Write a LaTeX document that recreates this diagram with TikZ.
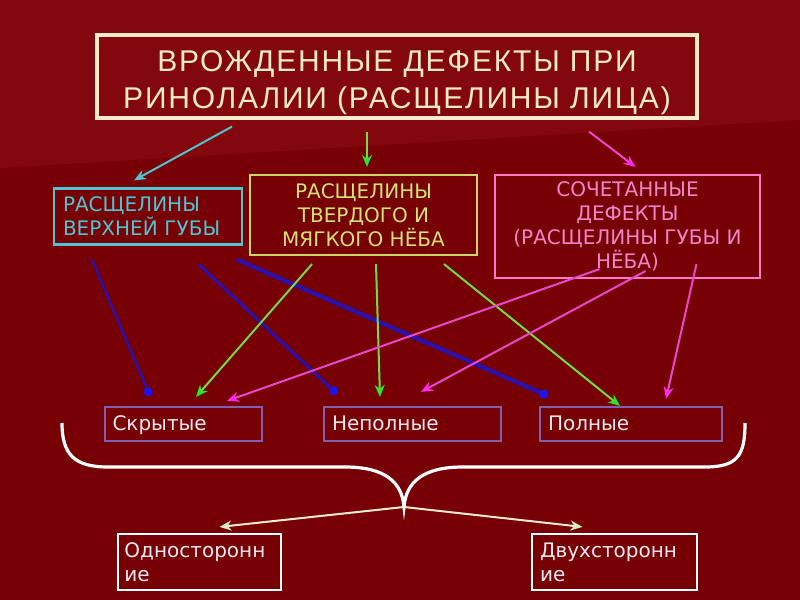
\documentclass[tikz,border=0pt]{standalone}
\usepackage{fontspec}
\setmainfont{DejaVu Sans}
\newfontfamily\ttlfont[LetterSpace=6.0]{Liberation Sans}
\usetikzlibrary{arrows.meta}

\definecolor{bgdark}{RGB}{118,0,4}
\definecolor{bglight}{RGB}{130,8,13}
\definecolor{cream}{RGB}{253,234,200}
\definecolor{lipc}{RGB}{80,196,208}
\definecolor{palc}{RGB}{204,214,100}
\definecolor{paltxt}{RGB}{214,226,112}
\definecolor{combc}{RGB}{250,122,200}
\definecolor{combtxt}{RGB}{240,132,200}
\definecolor{kindc}{RGB}{130,96,176}
\definecolor{kindtxt}{RGB}{246,232,240}
\definecolor{bluel}{RGB}{44,16,168}
\definecolor{bluedot}{RGB}{30,20,230}
\definecolor{greenl}{RGB}{116,220,64}
\definecolor{greenh}{RGB}{40,232,40}
\definecolor{magl}{RGB}{232,72,204}
\definecolor{magh}{RGB}{255,40,240}
\definecolor{bothc}{RGB}{250,236,210}
\definecolor{bothh}{RGB}{214,236,190}

\begin{document}
\begin{tikzpicture}[x=0.5pt, y=-0.5pt, font=\fontsize{10}{12}\selectfont,
    blk/.style={draw=#1, line width=1.1pt, inner sep=0pt, align=center},
    lblk/.style={blk=#1, align=left, inner ysep=0pt},
    kind/.style={lblk=kindc, text=kindtxt, text height=8.4pt, text depth=2.2pt, minimum height=17pt},
    lnk/.style={line width=1pt, draw=#1},
    blu/.style={line width=#1, draw=bluel, -{Circle[length=4.5pt, color=bluedot]}},
    grn/.style={lnk=greenl, -{Stealth[length=6pt, width=5pt, color=greenh]}},
    mag/.style={lnk=magl, -{Stealth[length=6pt, width=5pt, color=magh]}},
    side/.style={lnk=bothc, -{Stealth[length=6pt, width=5pt, color=bothh]}},
    brace/.style={draw=white, line width=1.6pt}]

  % ---------------- background ----------------
  \useasboundingbox (0,0) rectangle (800,600);
  \fill[bgdark] (0,0) rectangle (800,600);
  \fill[bglight] (0,0) -- (800,0) -- (800,120) -- (0,168) -- cycle;

  % ---------------- title and groups ----------------
  \node[blk=cream, line width=1.6pt, text=cream, minimum width=300pt, minimum height=41.5pt,
        text height=31.5pt, text depth=0pt,
        font=\ttlfont\fontsize{15}{18.5}\selectfont] (ttl) at (397,76.5)
        {ВРОЖДЕННЫЕ ДЕФЕКТЫ ПРИ\\РИНОЛАЛИИ (РАСЩЕЛИНЫ ЛИЦА)};
  \node[lblk=lipc, text=lipc, text width=85pt, inner xsep=4.5pt, minimum height=28pt] (lip) at (148,216.5)
        {РАСЩЕЛИНЫ\\ВЕРХНЕЙ ГУБЫ};
  \node[blk=palc, text=paltxt, minimum width=113.5pt, minimum height=40pt] (pal) at (363.5,215)
        {РАСЩЕЛИНЫ\\ТВЕРДОГО И\\МЯГКОГО НЁБА};
  \node[blk=combc, text=combtxt, minimum width=132.5pt, minimum height=51.5pt] (comb) at (627.5,226.5)
        {СОЧЕТАННЫЕ\\ДЕФЕКТЫ\\(РАСЩЕЛИНЫ ГУБЫ И\\НЁБА)};

  \draw[lnk=lipc, -{Stealth[length=6pt, width=5pt]}] ([shift={(-165,7)}]ttl.south) -- ([shift={(-14,-7)}]lip.north);
  \draw[grn] ([shift={(-30,12)}]ttl.south) -- ([shift={(3.5,-7)}]pal.north);
  \draw[mag] ([shift={(192,12)}]ttl.south) -- ([shift={(8,-7)}]comb.north);

  % ---------------- kinds ----------------
  \node[kind, text width=71pt, inner xsep=3.75pt] (hid) at (183.5,424) {Скрытые};
  \node[kind, text width=80.5pt, inner xsep=4pt] (part) at (412.5,424) {Неполные};
  \node[kind, text width=83pt, inner xsep=4pt] (full) at (631,424) {Полные};

  % lip
  \draw[blu=1.3pt] ([shift={(-56,14)}]lip.south) -- ([shift={(-33.5,-10)}]hid.north);
  \draw[blu=1.6pt] ([shift={(51,19)}]lip.south) -- ([shift={(-75.5,-12)}]part.north);
  \draw[blu=2.2pt] ([shift={(89,14)}]lip.south) -- ([shift={(-83,-10)}]full.north);
  % palate
  \draw[grn] ([shift={(-51.5,8)}]pal.south) -- ([shift={(12.5,-9)}]hid.north);
  \draw[grn] ([shift={(12.5,8)}]pal.south) -- ([shift={(-32.5,-9)}]part.north);
  \draw[grn] ([shift={(80.5,8)}]pal.south) -- ([shift={(-11,0)}]full.north);
  % combined
  \draw[mag] ([shift={(-28,-10)}]comb.south) -- ([shift={(43.5,-5)}]hid.north);
  \draw[mag] ([shift={(18,-8)}]comb.south) -- ([shift={(8.5,-14)}]part.north);
  \draw[mag] ([shift={(69,-15)}]comb.south) -- ([shift={(35,-7)}]full.north);

  % ---------------- sides ----------------
  \coordinate (tip) at (404,507);
  \draw[brace] (62,423) .. controls (62,455) and (75,467) .. (108,467) -- (345,467)
    .. controls (385,467) and (402,482) .. (tip)
    .. controls (406,482) and (423,467) .. (463,467) -- (705,467)
    .. controls (738,467) and (745,455) .. (745,423);

  \node[lblk=white, text=kindtxt, text width=75pt, inner xsep=3.25pt, minimum height=28pt] (one) at (199.5,562) {Односторонн\\ие};
  \node[lblk=white, text=kindtxt, text width=74.5pt, inner xsep=4pt, minimum height=28pt] (two) at (614.5,562) {Двухсторонн\\ие};
  \draw[side] (tip) -- ([shift={(20,-6)}]one.north);
  \draw[side] (tip) -- ([shift={(-32,-6)}]two.north);
\end{tikzpicture}
\end{document}
